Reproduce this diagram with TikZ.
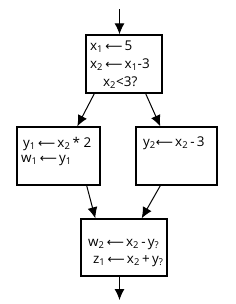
\documentclass[tikz,border=0pt]{standalone}
\usepackage{fontspec}
\setmainfont{Open Sans}
\newfontfamily\arrowfont{DejaVu Sans}
\usetikzlibrary{arrows.meta}
\newcommand{\lar}{{\arrowfont\fontsize{12}{12}\selectfont ⟵}\,}
\newcommand{\ix}[1]{\textsubscript{#1}}

\begin{document}
\begin{tikzpicture}[x=1bp,y=-1bp,
  every node/.style={font=\fontsize{13.5}{15}\selectfont},
  block/.style={draw,line width=1.4bp,minimum width=#1,inner sep=0pt},
  stmt/.style={anchor=base west,inner sep=0pt},
  flow/.style={line width=1bp,-{Latex[length=11bp,width=10bp]}}]
\useasboundingbox (0,0) rectangle (236,304);
% blocks
\node[block=76bp,minimum height=58bp] (b1) at (124,64) {};
\node[block=83bp,minimum height=58bp] (b2) at (58.5,156) {};
\node[block=81bp,minimum height=58bp] (b3) at (176.5,156) {};
\node[block=86bp,minimum height=57bp] (b4) at (124,247.5) {};
% statements
\node[stmt] (s11) at (90,50) {x\ix{1}\,\lar 5};
\node[stmt] (s12) at (90,68) {x\ix{2}\,\lar x\ix{1}-3};
\node[stmt] (s13) at (103,86) {x\ix{2}<3?};
\node[stmt] (s21) at (23,147) {y\ix{1}\,\lar x\ix{2}\,* 2};
\node[stmt] (s22) at (21,162) {w\ix{1}\,\lar y\ix{1}};
\node[stmt] (s31) at (143,146) {y\ix{2}\lar x\ix{2}\,-\,3};
\node[stmt] (s41) at (88,246) {w\ix{2}\,\lar x\ix{2}\,-\,y\ix{?}};
\node[stmt] (s42) at (93,263) {z\ix{1}\,\lar x\ix{2}\,+\,y\ix{?}};
% edges
\coordinate (entry) at (119.5,9);
\coordinate (exit) at (119.5,300);
\draw[flow] (entry) -- (entry |- b1.north);
\draw[flow] ([xshift=9bp]b1.south west) -- ([xshift=61bp]b2.north west);
\draw[flow] ([xshift=-17bp]b1.south east) -- ([xshift=25bp]b3.north west);
\draw[flow] ([xshift=-14bp]b2.south east) -- ([xshift=15bp]b4.north west);
\draw[flow] ([xshift=25bp]b3.south west) -- ([xshift=-26bp]b4.north east);
\draw[flow] (b4.south -| exit) -- (exit);
\end{tikzpicture}
\end{document}
